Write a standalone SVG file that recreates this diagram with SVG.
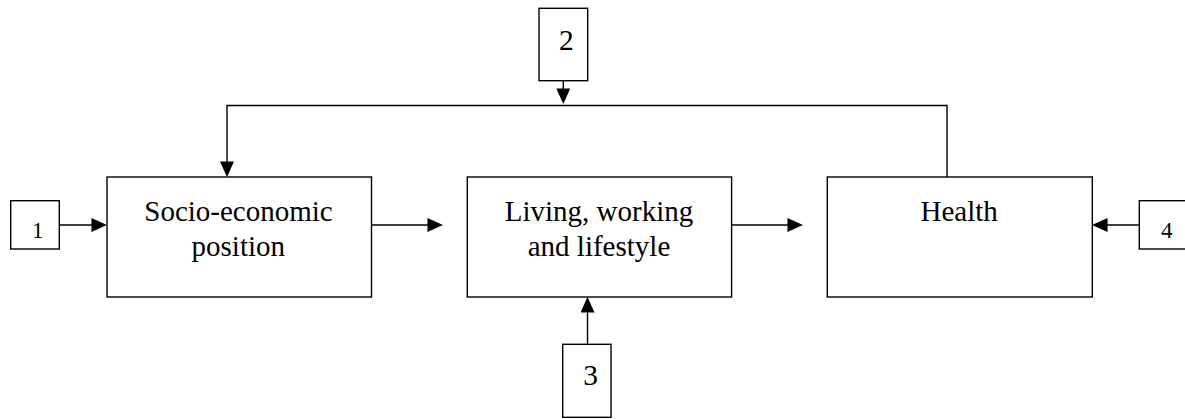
<svg xmlns="http://www.w3.org/2000/svg" width="1185" height="419" viewBox="0 0 1185 419">
  <style>
    .box { fill: #ffffff; stroke: #000000; stroke-width: 1.4; }
    .line { fill: none; stroke: #000000; stroke-width: 1.4; }
    .lbl { font-family: "Liberation Serif", "Times New Roman", serif; font-size: 29px; fill: #000000; text-anchor: middle; }
    .num { font-family: "Liberation Serif", "Times New Roman", serif; fill: #000000; text-anchor: middle; }
  </style>
  <defs>
    <marker id="arrow" markerUnits="userSpaceOnUse" markerWidth="16" markerHeight="14" viewBox="0 0 15 13.4" refX="13" refY="6.7" orient="auto">
      <path d="M0,0 L15,6.7 L0,13.4 Z" fill="#000000"/>
    </marker>
  </defs>
  <rect width="1185" height="419" fill="#ffffff"/>

  <g id="connectors">
    <path class="line" d="M947,177 L947,105.5 L227,105.5 L227,175" marker-end="url(#arrow)"/>
    <path class="line" d="M563.3,80.7 L563.3,102" marker-end="url(#arrow)"/>
    <path class="line" d="M59.5,225 L105,225" marker-end="url(#arrow)"/>
    <path class="line" d="M371.5,225 L441,225" marker-end="url(#arrow)"/>
    <path class="line" d="M731.5,225 L801,225" marker-end="url(#arrow)"/>
    <path class="line" d="M1139,225 L1094,225" marker-end="url(#arrow)"/>
    <path class="line" d="M587.5,344.3 L587.5,299" marker-end="url(#arrow)"/>
  </g>

  <g id="node-socio">
    <rect class="box" x="107" y="177" width="264.5" height="120"/>
    <text class="lbl" x="238.5" y="221">Socio-economic</text>
    <text class="lbl" x="238.3" y="255.5">position</text>
  </g>

  <g id="node-living">
    <rect class="box" x="467.3" y="177" width="264.3" height="120"/>
    <text class="lbl" x="599" y="221">Living, working</text>
    <text class="lbl" x="599" y="255.5">and lifestyle</text>
  </g>

  <g id="node-health">
    <rect class="box" x="827.3" y="177" width="265" height="120"/>
    <text class="lbl" x="959.2" y="221">Health</text>
  </g>

  <g id="node-1">
    <rect class="box" x="10.7" y="200.7" width="48.6" height="48.3"/>
    <text class="num" x="37.8" y="238.3" font-size="23">1</text>
  </g>

  <g id="node-2">
    <rect class="box" x="539" y="8.3" width="48.7" height="72.4"/>
    <text class="num" x="566.3" y="50" font-size="29.5">2</text>
  </g>

  <g id="node-3">
    <rect class="box" x="562.7" y="344.3" width="48.3" height="73"/>
    <text class="num" x="590.7" y="385" font-size="29.5">3</text>
  </g>

  <g id="node-4">
    <rect class="box" x="1139.3" y="200.7" width="48.6" height="48.3"/>
    <text class="num" x="1166.7" y="238.3" font-size="23">4</text>
  </g>
</svg>
